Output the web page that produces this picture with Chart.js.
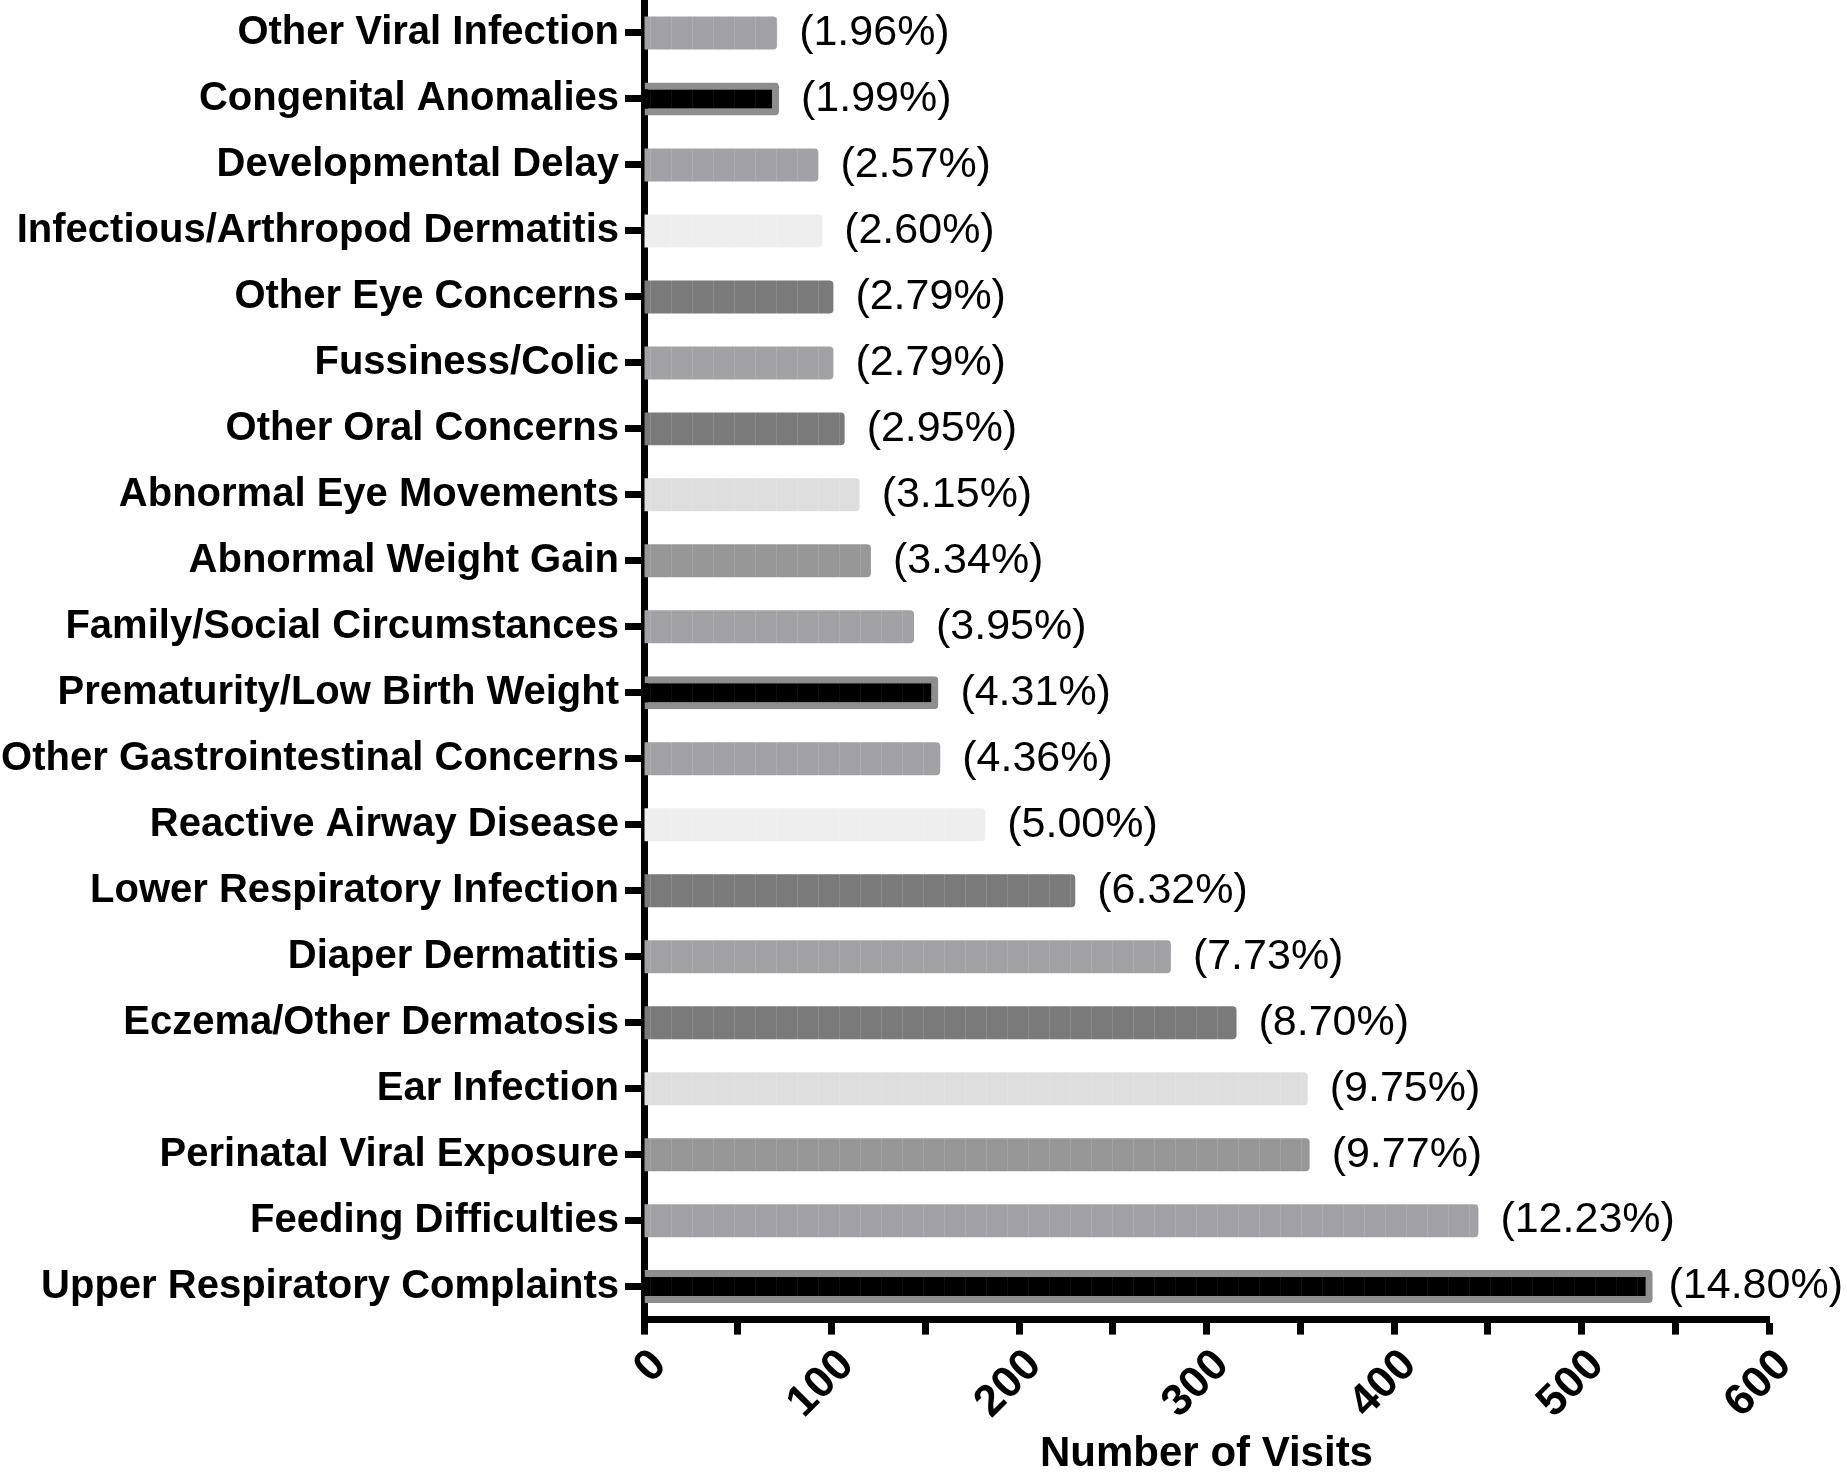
<!DOCTYPE html>
<html>
<head>
<meta charset="utf-8">
<script src="https://cdn.jsdelivr.net/npm/chart.js@4.4.1/dist/chart.umd.min.js"></script>
<style>
  html, body { margin: 0; padding: 0; background: #fff; }
  #wrap { width: 1847px; height: 1473px; position: relative; }
</style>
</head>
<body>
<div id="wrap"><canvas id="myChart"></canvas></div>
<script>
// categories, top to bottom
const categories = [
    'Other Viral Infection',
    'Congenital Anomalies',
    'Developmental Delay',
    'Infectious/Arthropod Dermatitis',
    'Other Eye Concerns',
    'Fussiness/Colic',
    'Other Oral Concerns',
    'Abnormal Eye Movements',
    'Abnormal Weight Gain',
    'Family/Social Circumstances',
    'Prematurity/Low Birth Weight',
    'Other Gastrointestinal Concerns',
    'Reactive Airway Disease',
    'Lower Respiratory Infection',
    'Diaper Dermatitis',
    'Eczema/Other Dermatosis',
    'Ear Infection',
    'Perinatal Viral Exposure',
    'Feeding Difficulties',
    'Upper Respiratory Complaints'
];
// number of visits
const visits = [71, 72, 93, 95, 101, 101, 107, 115, 121, 144, 157, 158, 182, 230, 281, 316, 354, 355, 445, 538];
// share of visits (%)
const shares = [1.96, 1.99, 2.57, 2.60, 2.79, 2.79, 2.95, 3.15, 3.34, 3.95, 4.31, 4.36, 5.00, 6.32, 7.73, 8.70, 9.75, 9.77, 12.23, 14.80];
// x tick labels
const xTicks = [0, 100, 200, 300, 400, 500, 600];

// bar shades
const MID = '#a2a1a6', MID2 = '#979797', DARK = '#7a7a7a', LIGHT = '#eeeeee', LIGHT2 = '#dedede', BLACK = '#000000';
const shades = [MID, BLACK, MID, LIGHT, DARK, MID, DARK, LIGHT2, MID2, MID,
                BLACK, MID, LIGHT, DARK, MID, DARK, LIGHT2, MID2, MID, BLACK];

// faint vertical stripes like the original bars
function stripes(fill) {
    const c = document.createElement('canvas');
    c.width = 21; c.height = 4;
    const g = c.getContext('2d');
    g.fillStyle = fill;
    g.fillRect(0, 0, 21, 4);
    g.fillStyle = fill === BLACK ? 'rgba(255,255,255,0.06)' : 'rgba(255,255,255,0.12)';
    g.fillRect(20, 0, 1, 4);
    return g.createPattern(c, 'repeat');
}

const FONT = '"Liberation Sans", Arial, Helvetica, sans-serif';

const labelPlugin = {
    id: 'pctLabels',
    afterDatasetsDraw(chart) {
        const ctx = chart.ctx;
        const meta = chart.getDatasetMeta(0);
        const xs = chart.scales.x;
        ctx.save();
        // percentage after each bar
        ctx.font = '43px ' + FONT;
        ctx.fillStyle = '#000';
        ctx.textAlign = 'left';
        ctx.textBaseline = 'middle';
        meta.data.forEach(function (bar, i) {
            const txt = '(' + shares[i].toFixed(2) + '%)';
            const w = ctx.measureText(txt).width;
            let lx = bar.x + 22;
            if (lx + w > chart.width - 4) lx = chart.width - 4 - w;
            ctx.fillText(txt, lx, bar.y);
        });
        // rotated x tick labels
        ctx.font = 'bold 44px ' + FONT;
        ctx.textAlign = 'right';
        ctx.textBaseline = 'top';
        xTicks.forEach(function (v) {
            const px = xs.getPixelForValue(v);
            ctx.save();
            ctx.translate(px, xs.top + 23);
            ctx.rotate(-Math.PI / 4);
            ctx.fillText(String(v), 0, 0);
            ctx.restore();
        });
        ctx.restore();
    }
};

const ctx = document.querySelector('#myChart').getContext('2d');
const myChart = new Chart(ctx, {
    type: 'bar',
    data: {
        labels: categories,
        datasets: [{
            data: visits,
            backgroundColor: shades.map(stripes),
            borderColor: shades.map(s => s === BLACK ? '#8e8e8e' : s),
            borderWidth: shades.map(s => s === BLACK ? 7 : 0),
            borderSkipped: 'start',
            borderRadius: 4,
            barPercentage: 0.5,
            categoryPercentage: 1.0
        }]
    },
    options: {
        indexAxis: 'y',
        responsive: true,
        maintainAspectRatio: false,
        devicePixelRatio: 1,
        animation: false,
        layout: { padding: { top: -10, right: 78, bottom: -7, left: 0 } },
        plugins: {
            legend: { display: false },
            tooltip: { enabled: false }
        },
        scales: {
            x: {
                type: 'linear',
                min: 0,
                max: 600,
                ticks: { stepSize: 50, display: false },
                grid: {
                    drawOnChartArea: false,
                    drawTicks: true,
                    tickLength: 15,
                    tickWidth: 7,
                    tickColor: '#000'
                },
                border: { display: true, color: '#000', width: 7 },
                title: {
                    display: true,
                    text: 'Number of Visits',
                    color: '#000',
                    font: { family: FONT, size: 42, weight: 'bold' },
                    padding: { top: 95, bottom: 0 }
                }
            },
            y: {
                type: 'category',
                grid: {
                    offset: false,
                    drawOnChartArea: false,
                    drawTicks: true,
                    tickLength: 19,
                    tickWidth: 7,
                    tickColor: '#000'
                },
                border: { display: true, color: '#000', width: 7 },
                ticks: {
                    autoSkip: false,
                    color: '#000',
                    padding: 6,
                    font: { family: FONT, size: 40, weight: 'bold' }
                },
                afterFit: function (scale) {
                    scale.width = 644;
                    // let the plot run up to the top edge like the original
                    scale.paddingTop = -10;
                }
            }
        }
    },
    plugins: [labelPlugin]
});
</script>
</body>
</html>
